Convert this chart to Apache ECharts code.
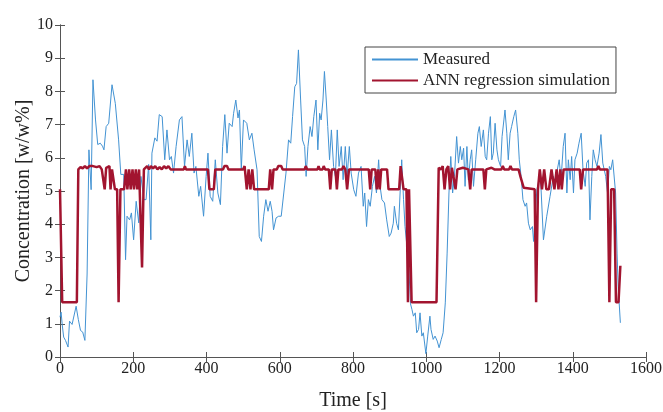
<!DOCTYPE html>
<html>
<head>
<meta charset="utf-8">
<script src="https://cdn.jsdelivr.net/npm/echarts@6/dist/echarts.min.js"></script>
<style>
html,body{margin:0;padding:0;background:#fff;}
#chart{width:663px;height:412px;}
</style>
</head>
<body>
<div id="chart"></div>
<script>
// Tick labels
const xTicks = [0, 200, 400, 600, 800, 1000, 1200, 1400, 1600];
const yTicks = [0, 1, 2, 3, 4, 5, 6, 7, 8, 9, 10];

// Measured series
const measuredT = [0,3,6,10,15,22,26,33,38,44,50,56,62,68,74,79,85,90,97,103,110,116,120,126,133,142,151,160,166,170,174,179,183,190,195,201,208,215,221,229,235,242,248,251,259,265,271,279,286,292,299,304,310,317,326,333,340,347,353,360,366,371,379,384,392,399,404,410,417,424,431,438,444,450,456,462,470,474,480,486,490,495,501,510,517,524,530,538,544,550,556,562,568,574,579,583,590,597,604,611,617,624,630,635,641,646,651,657,662,668,672,677,683,688,693,699,704,709,713,718,722,727,731,736,741,747,752,757,762,768,773,779,784,790,795,802,808,815,822,828,832,837,842,847,853,859,864,870,874,879,886,892,899,904,910,913,919,924,929,933,938,942,952,957,961,965,970,974,979,983,988,992,999,1004,1010,1013,1019,1024,1030,1035,1041,1046,1052,1057,1062,1067,1072,1077,1083,1088,1093,1097,1102,1106,1111,1115,1120,1124,1129,1135,1141,1145,1150,1156,1161,1165,1170,1175,1179,1183,1188,1193,1197,1203,1207,1212,1215,1220,1224,1229,1233,1239,1244,1250,1254,1259,1264,1270,1274,1279,1284,1290,1293,1302,1306,1311,1320,1329,1338,1347,1352,1356,1363,1368,1374,1379,1384,1388,1393,1397,1402,1406,1412,1417,1423,1428,1434,1438,1443,1447,1452,1456,1461,1466,1472,1477,1482,1486,1490,1495,1500,1504,1509,1514,1517,1521,1524,1530];
const measuredV = [1.2,1.35,0.98,0.6,0.5,0.3,1.08,0.98,0.95,1.53,1.13,0.8,0.75,0.5,2.5,6.24,5.04,8.35,7.14,6.4,6.44,6.35,6.24,6.94,7.04,8.2,7.64,6.54,5.5,5.44,5.5,2.93,4.24,4.13,4.34,3.53,4.69,4.04,5.44,4.74,4.74,5.8,3.53,6.14,6.6,6.5,7.3,7.24,5.94,6.84,5.94,6.04,5.54,6.34,7.14,7.24,5.74,6.54,6.04,6.74,5.54,5.74,4.84,5.14,4.24,5.44,6.14,4.84,4.69,5.94,4.94,4.59,6.34,7.3,6.14,7.04,6.94,7.34,7.74,7.2,7.44,5.64,7.14,7.04,6.54,6.74,6.24,5.64,3.63,3.48,4.24,4.74,4.39,4.69,4.39,3.83,4.19,4.24,4.24,4.94,5.54,6.54,6.44,7.24,8.14,8.24,9.25,7.74,6.54,6.34,5.44,6.34,6.94,6.64,7.24,7.74,6.24,7.34,7.14,7.74,8.6,7.74,6.94,5.94,6.84,5.74,5.44,6.84,5.74,6.34,5.34,6.34,5.44,6.34,5.54,5.04,4.84,5.54,5.74,4.54,4.94,3.93,4.74,4.54,5.14,5.44,4.94,5.94,5.14,4.74,4.64,4.13,3.63,3.73,4.03,4.54,4.03,3.83,5.04,5.94,4.74,3.93,2.8,1.6,1.43,1.23,1.33,0.73,0.83,1.33,0.63,0.73,0.1,0.63,1.23,0.83,0.53,0.63,0.48,0.28,0.53,0.73,1.63,3.13,4.94,6.04,4.94,5.44,6.64,5.84,6.34,5.94,6.29,5.14,6.34,5.34,5.94,6.24,5.14,5.94,6.74,6.94,6.34,6.84,6.04,5.94,6.74,7.24,5.94,6.14,7.04,6.24,5.94,5.74,6.64,7.14,7.44,6.74,5.94,6.74,6.94,7.24,7.44,6.74,5.94,5.44,4.74,4.54,4.64,4.03,3.83,3.93,3.48,5.04,5.24,5.64,3.53,4.24,4.84,5.44,5.24,5.54,5.94,5.34,6.34,6.74,4.94,5.94,5.34,6.04,4.94,5.94,6.14,6.44,6.74,5.64,5.14,5.84,5.94,4.13,5.44,6.24,5.94,5.74,6.14,6.7,5.84,5.64,5.44,4.94,5.74,5.64,5.94,6.0,4.94,3.13,2.13,1.03];

// ANN regression simulation series
const annT = [0,6,46,50,56,62,68,74,80,90,100,108,114,118,122,126,131,135,138,142,146,150,156,160,165,175,180,184,189,193,198,202,207,211,216,220,224,229,234,238,243,248,254,260,266,272,278,284,290,296,302,338,341,344,404,408,420,424,445,449,456,460,500,504,510,515,520,525,530,570,574,579,583,592,596,604,608,668,671,675,703,706,709,717,720,724,734,738,742,752,756,760,770,774,779,784,789,843,847,851,861,865,869,873,877,893,897,926,930,934,938,946,950,953,956,960,1028,1034,1040,1045,1050,1055,1060,1065,1070,1075,1080,1085,1100,1115,1120,1124,1156,1160,1164,1178,1182,1186,1205,1209,1213,1226,1230,1234,1252,1258,1266,1296,1300,1305,1310,1316,1322,1328,1335,1342,1350,1356,1361,1366,1370,1375,1419,1423,1428,1466,1470,1474,1495,1500,1505,1513,1518,1525,1530];
const annV = [5.05,1.65,1.65,5.65,5.72,5.68,5.75,5.68,5.75,5.75,5.72,5.75,5.65,5.65,5.05,5.7,5.75,5.75,5.05,5.65,5.65,5.05,5.05,1.65,5.05,5.05,5.65,5.05,5.65,5.05,5.65,5.05,5.65,5.05,5.65,5.65,2.7,5.65,5.7,5.75,5.65,5.75,5.68,5.75,5.65,5.72,5.65,5.75,5.68,5.75,5.65,5.65,5.75,5.65,5.65,5.05,5.05,5.65,5.65,5.75,5.75,5.65,5.65,5.75,5.05,5.65,5.05,5.65,5.05,5.05,5.65,5.05,5.65,5.65,5.75,5.75,5.65,5.65,5.75,5.65,5.65,5.75,5.65,5.65,5.75,5.65,5.65,5.05,5.65,5.65,5.05,5.65,5.65,5.75,5.65,5.05,5.65,5.65,5.05,5.65,5.65,5.05,5.65,5.05,5.65,5.65,5.05,5.05,5.75,5.75,5.05,5.05,1.65,5.05,5.05,1.65,1.65,5.7,5.65,5.75,5.05,5.65,5.75,5.05,5.7,5.65,5.05,5.65,5.7,5.65,5.05,5.65,5.65,5.05,5.65,5.7,5.75,5.65,5.65,5.75,5.65,5.65,5.75,5.65,5.65,5.4,5.1,5.05,1.65,5.05,5.65,5.05,5.65,5.05,5.05,5.65,5.05,5.65,5.05,5.65,5.05,5.65,5.65,5.05,5.65,5.65,5.75,5.65,5.65,1.65,5.05,5.05,1.65,1.65,2.75];

const seriesNames = ['Measured', 'ANN regression simulation'];

const measured = measuredT.map((t, i) => [t, measuredV[i]]);
const ann = annT.map((t, i) => [t, annV[i]]);

const FONT = '"Liberation Serif", "DejaVu Serif", serif';
const axisColor = '#555';
const textColor = '#222';
const blue = '#4393d3';
const red = '#a2142f';

const chart = echarts.init(document.getElementById('chart'), null, {renderer: 'canvas'});

const baseX = {
  type: 'value', min: xTicks[0], max: xTicks[xTicks.length - 1], interval: 200,
  axisLine: {show: true, lineStyle: {color: axisColor, width: 1}},
  axisTick: {show: true, inside: true, length: 5, lineStyle: {color: axisColor}},
  splitLine: {show: false}
};
const baseY = {
  type: 'value', min: yTicks[0], max: yTicks[yTicks.length - 1], interval: 1,
  axisLine: {show: true, lineStyle: {color: axisColor, width: 1}},
  axisTick: {show: true, inside: true, length: 5, lineStyle: {color: axisColor}},
  splitLine: {show: false}
};

chart.setOption({
  animation: false,
  backgroundColor: '#fff',
  grid: {left: 60, right: 17, top: 25, bottom: 55, containLabel: false, outerBoundsMode: 'none'},
  legend: {
    data: seriesNames,
    orient: 'vertical',
    left: 365, top: 47,
    padding: [4, 6, 4, 6],
    itemGap: 4,
    itemWidth: 46, itemHeight: 16,
    itemStyle: {opacity: 0},
    borderColor: '#444', borderWidth: 1, borderRadius: 0,
    backgroundColor: '#fff',
    textStyle: {fontFamily: FONT, fontSize: 17, lineHeight: 16, color: textColor}
  },
  xAxis: [
    Object.assign({}, baseX, {
      position: 'bottom',
      name: 'Time [s]', nameLocation: 'middle', nameGap: 34, nameMoveOverlap: false,
      nameTextStyle: {fontFamily: FONT, fontSize: 20, color: textColor},
      axisLabel: {show: true, fontFamily: FONT, fontSize: 16, color: textColor, margin: 4,
        formatter: v => String(v)}
    }),
    Object.assign({}, baseX, {position: 'top', axisLabel: {show: false}})
  ],
  yAxis: [
    Object.assign({}, baseY, {
      position: 'left',
      name: 'Concentration [w/w%]', nameLocation: 'middle', nameGap: 26, nameMoveOverlap: false,
      nameTextStyle: {fontFamily: FONT, fontSize: 20, color: textColor},
      axisLabel: {show: true, fontFamily: FONT, fontSize: 16, color: textColor, margin: 7,
        formatter: v => String(v)}
    }),
    Object.assign({}, baseY, {position: 'right', axisLabel: {show: false}})
  ],
  series: [
    {
      name: seriesNames[0], type: 'line', data: measured,
      xAxisIndex: 0, yAxisIndex: 0,
      symbol: 'none', showSymbol: false,
      lineStyle: {color: blue, width: 1},
      itemStyle: {color: blue},
      z: 2
    },
    {
      name: seriesNames[1], type: 'line', data: ann,
      xAxisIndex: 0, yAxisIndex: 0,
      symbol: 'none', showSymbol: false,
      lineStyle: {color: red, width: 2.5},
      itemStyle: {color: red},
      z: 3
    }
  ]
});
</script>
</body>
</html>
